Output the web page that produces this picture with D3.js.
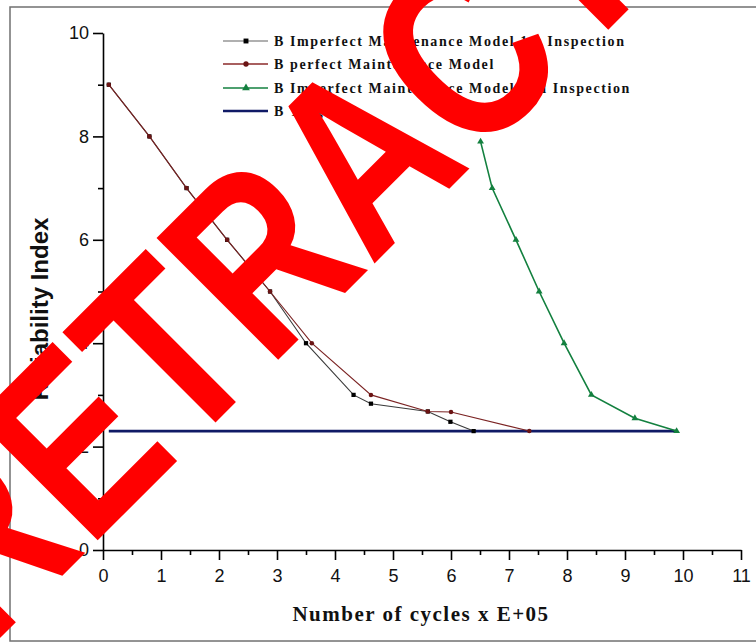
<!DOCTYPE html>
<html>
<head>
<meta charset="utf-8">
<script src="https://cdn.jsdelivr.net/npm/d3@7/dist/d3.min.js"></script>
<style>
  html, body { margin: 0; padding: 0; background: #fff; }
  svg { display: block; }
</style>
</head>
<body>
<svg id="chart" width="756" height="642"></svg>
<script>
// Reliability index against load cycles (x 1E+05)
const xImperfect1 = [0.1, 0.8, 1.44, 2.14, 2.88, 3.5, 4.32, 4.62, 5.6, 5.99, 6.39];
const yImperfect1 = [9, 8, 7, 6, 5, 4.0, 3.0, 2.83, 2.68, 2.48, 2.3];

const xPerfect = [0.1, 0.8, 1.44, 2.14, 2.88, 3.6, 4.62, 5.6, 6.0, 7.35];
const yPerfect = [9, 8, 7, 6, 5, 4, 3, 2.68, 2.67, 2.3];

const xImperfect2 = [6.51, 6.71, 7.12, 7.52, 7.95, 8.42, 9.17, 9.89];
const yImperfect2 = [7.9, 7, 6, 5, 4, 3, 2.55, 2.3];

const xTarget = [0.1, 9.9];
const yTarget = [2.3, 2.3];

const legendLabels = [
  "B Imperfect Maintenance Model 1st Inspection",
  "B perfect Maintenance Model",
  "B Imperfect Maintenance Model 2nd Inspection",
  "B Target"
];

const xMajorTicks = d3.range(0, 12, 1);
const xMinorTicks = d3.range(0.5, 11, 1);
const yMajorTicks = [0, 2, 4, 6, 8, 10];
const yMinorTicks = [1, 3, 5, 7, 9];

const watermark = "RETRACTED";

const svg = d3.select("#chart");

const x = d3.scaleLinear().domain([0, 11]).range([103, 741]);
const y = d3.scaleLinear().domain([0, 10]).range([550, 33]);

// outer frame
svg.append("rect")
  .attr("x", 10).attr("y", 7).attr("width", 800).attr("height", 634)
  .attr("fill", "none").attr("stroke", "#707070").attr("stroke-width", 1.5);

const tickFont = "'Liberation Sans', Arial, sans-serif";

// x axis
const gx = svg.append("g").attr("transform", "translate(0,550)");
gx.call(d3.axisBottom(x).tickValues(xMajorTicks).tickSize(10).tickSizeOuter(0).tickFormat(d3.format("d")));
gx.append("g").call(d3.axisBottom(x).tickValues(xMinorTicks).tickSize(5).tickSizeOuter(0).tickFormat(""))
  .select(".domain").remove();
gx.selectAll("text").attr("font-size", 18).attr("font-family", tickFont).attr("fill", "#111").attr("dy", "1.05em");

// y axis
const gy = svg.append("g").attr("transform", "translate(103,0)");
gy.call(d3.axisLeft(y).tickValues(yMajorTicks).tickSize(10).tickSizeOuter(0).tickFormat(d3.format("d")));
gy.append("g").call(d3.axisLeft(y).tickValues(yMinorTicks).tickSize(5).tickSizeOuter(0).tickFormat(""))
  .select(".domain").remove();
gy.selectAll("text").attr("font-size", 18).attr("font-family", tickFont).attr("fill", "#111").attr("x", -14);

svg.selectAll(".domain, .tick line").attr("stroke", "#000").attr("stroke-width", 1.6);

// axis titles
svg.append("text")
  .attr("transform", "translate(48,309) rotate(-90)")
  .attr("text-anchor", "middle")
  .attr("font-family", tickFont).attr("font-weight", "bold").attr("font-size", 24)
  .attr("fill", "#111")
  .text("Reliability Index");

svg.append("text")
  .attr("x", 421).attr("y", 621)
  .attr("text-anchor", "middle")
  .attr("font-family", "'Liberation Serif', 'Times New Roman', serif").attr("font-weight", "bold").attr("font-size", 21)
  .attr("letter-spacing", 1.5)
  .attr("fill", "#111")
  .text("Number of cycles x E+05");

const line = d3.line().x(d => x(d[0])).y(d => y(d[1]));
const zip = (xs, ys) => xs.map((v, i) => [v, ys[i]]);

const series = [
  { data: zip(xImperfect1, yImperfect1), line: "#3a3a3a", mark: "#000", width: 1.1, shape: d3.symbolSquare, size: 18, legendLine: "#b0b0b0", legendWidth: 2 },
  { data: zip(xPerfect, yPerfect), line: "#7b2323", mark: "#6b1414", width: 1.1, shape: d3.symbolCircle, size: 16, legendLine: "#8b2a2a", legendWidth: 1.3 },
  { data: zip(xImperfect2, yImperfect2), line: "#13803f", mark: "#13803f", width: 1.6, shape: d3.symbolTriangle, size: 20, legendLine: "#13803f", legendWidth: 1.6 },
  { data: zip(xTarget, yTarget), line: "#101a66", mark: "#101a66", width: 2.6, shape: null, size: 0, legendLine: "#101a66", legendWidth: 2.4 }
];

// lines and markers (drawn target first so curves sit on top)
const order = [3, 0, 1, 2];
order.forEach(i => {
  const s = series[i];
  svg.append("path").datum(s.data)
    .attr("d", line).attr("fill", "none")
    .attr("stroke", s.line).attr("stroke-width", s.width);
  if (s.shape) {
    svg.selectAll(null).data(s.data).enter().append("path")
      .attr("transform", d => `translate(${x(d[0])},${y(d[1])})`)
      .attr("d", d3.symbol().type(s.shape).size(s.size))
      .attr("fill", s.mark);
  }
});

// legend
const legendY = [41, 64, 88, 111];
const legendBase = [46, 69, 93, 116];
const legendFont = "'Liberation Serif', 'Times New Roman', serif";
series.forEach((s, i) => {
  svg.append("line")
    .attr("x1", 223).attr("x2", 268).attr("y1", legendY[i]).attr("y2", legendY[i])
    .attr("stroke", s.legendLine).attr("stroke-width", s.legendWidth);
  if (s.shape) {
    svg.append("path")
      .attr("transform", `translate(246,${legendY[i]})`)
      .attr("d", d3.symbol().type(s.shape).size(s.size + 6))
      .attr("fill", s.mark);
  }
  svg.append("text")
    .attr("x", 274).attr("y", legendBase[i])
    .attr("font-family", legendFont).attr("font-weight", "bold").attr("font-size", 14)
    .attr("letter-spacing", 1.6).attr("fill", "#111")
    .text(legendLabels[i]);
});

// retraction stamp across the plot
svg.append("text")
  .attr("transform", "translate(-14,652) rotate(-45) scale(0.8,1)")
  .attr("font-family", "'Liberation Sans', Arial, sans-serif")
  .attr("font-weight", "bold").attr("font-size", 250)
  .attr("fill", "#ff0000")
  .text(watermark);
</script>
</body>
</html>
